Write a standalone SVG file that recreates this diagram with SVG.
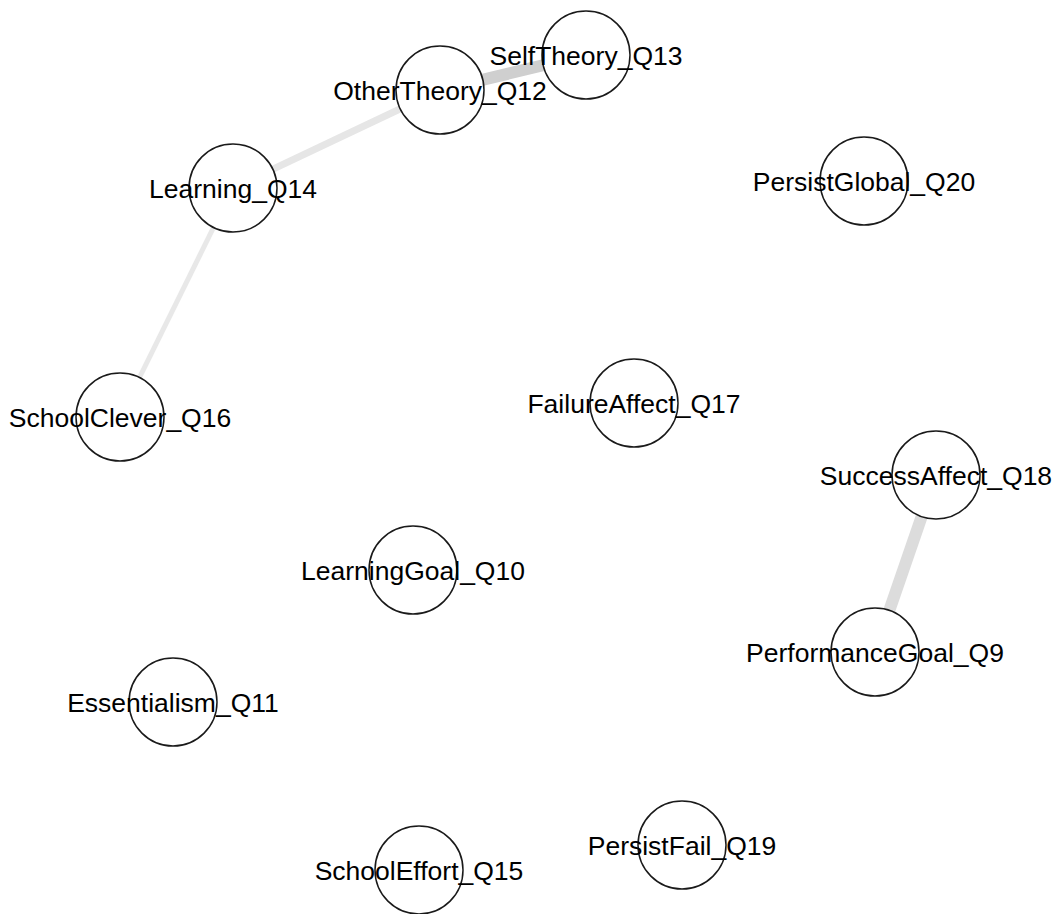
<svg xmlns="http://www.w3.org/2000/svg" width="1057" height="914" viewBox="0 0 1057 914">
  <style>
    .node circle { fill: #ffffff; stroke: #1a1a1a; stroke-width: 1.5; }
    .node text { font-family: "Liberation Sans", Arial, sans-serif; font-size: 26.5px; fill: #000000; text-anchor: middle; }
    .edge { stroke-linecap: butt; fill: none; }
  </style>
  <rect width="1057" height="914" fill="#ffffff"/>
  <g id="edges">
    <line class="edge" x1="440" y1="90" x2="586" y2="55" stroke="#cfcfcf" stroke-width="12"/>
    <line class="edge" x1="233" y1="188" x2="440" y2="90" stroke="#e6e6e6" stroke-width="7"/>
    <line class="edge" x1="120" y1="417" x2="233" y2="188" stroke="#e8e8e8" stroke-width="5"/>
    <line class="edge" x1="936" y1="475" x2="875" y2="652" stroke="#dcdcdc" stroke-width="12"/>
  </g>
  <g id="SelfTheory_Q13" class="node"><circle cx="586" cy="55" r="44"/><text x="586" y="64.5">SelfTheory_Q13</text></g>
  <g id="OtherTheory_Q12" class="node"><circle cx="440" cy="90" r="44"/><text x="440" y="99.5">OtherTheory_Q12</text></g>
  <g id="Learning_Q14" class="node"><circle cx="233" cy="188" r="44"/><text x="233" y="197.5">Learning_Q14</text></g>
  <g id="PersistGlobal_Q20" class="node"><circle cx="864" cy="181" r="44"/><text x="864" y="190.5">PersistGlobal_Q20</text></g>
  <g id="SchoolClever_Q16" class="node"><circle cx="120" cy="417" r="44"/><text x="120" y="426.5">SchoolClever_Q16</text></g>
  <g id="FailureAffect_Q17" class="node"><circle cx="634" cy="403" r="44"/><text x="634" y="412.5">FailureAffect_Q17</text></g>
  <g id="SuccessAffect_Q18" class="node"><circle cx="936" cy="475" r="44"/><text x="936" y="484.5">SuccessAffect_Q18</text></g>
  <g id="LearningGoal_Q10" class="node"><circle cx="413" cy="570" r="44"/><text x="413" y="579.5">LearningGoal_Q10</text></g>
  <g id="PerformanceGoal_Q9" class="node"><circle cx="875" cy="652" r="44"/><text x="875" y="661.5">PerformanceGoal_Q9</text></g>
  <g id="Essentialism_Q11" class="node"><circle cx="173" cy="702" r="44"/><text x="173" y="711.5">Essentialism_Q11</text></g>
  <g id="PersistFail_Q19" class="node"><circle cx="682" cy="845" r="44"/><text x="682" y="854.5">PersistFail_Q19</text></g>
  <g id="SchoolEffort_Q15" class="node"><circle cx="419" cy="870" r="44"/><text x="419" y="879.5">SchoolEffort_Q15</text></g>
</svg>
